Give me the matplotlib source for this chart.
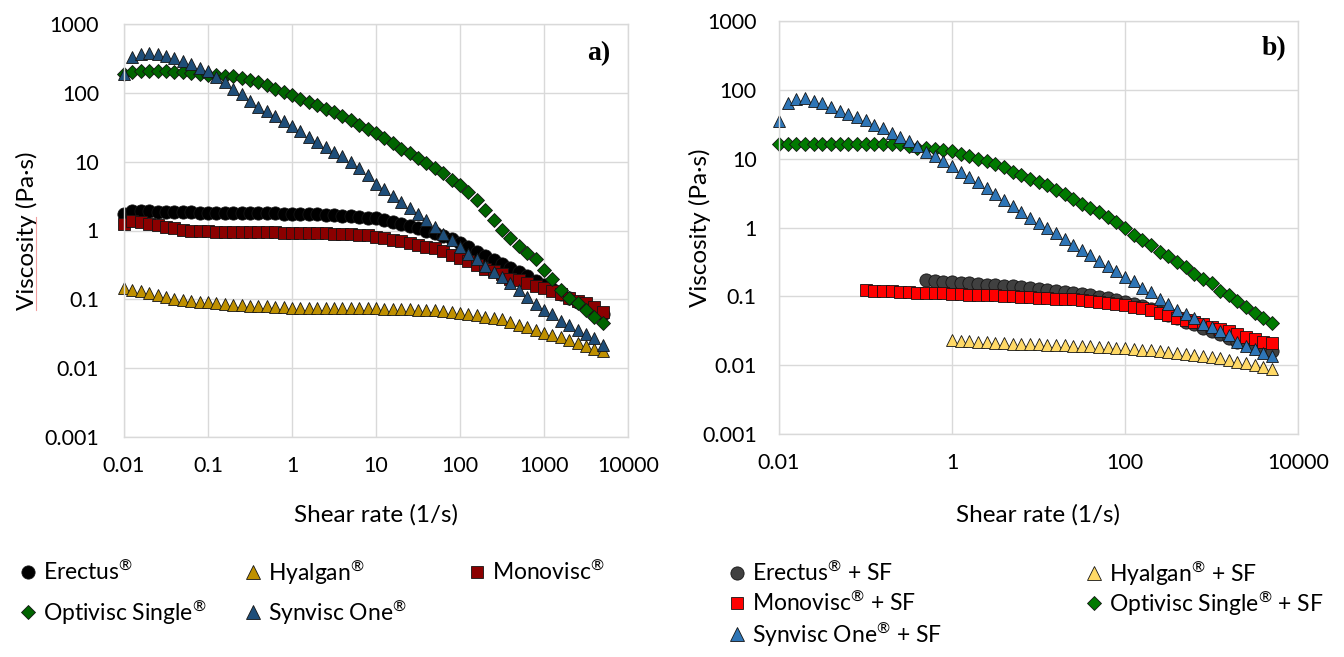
import matplotlib
matplotlib.use("Agg")
import matplotlib.pyplot as plt
from matplotlib.lines import Line2D
from matplotlib.ticker import FixedLocator, FixedFormatter, NullLocator

plt.rcParams['font.family'] = ['Lato', 'DejaVu Sans']
plt.rcParams['mathtext.fontset'] = 'custom'
plt.rcParams['mathtext.rm'] = 'Lato'
plt.rcParams['mathtext.it'] = 'Lato:italic'
plt.rcParams['mathtext.bf'] = 'Lato:bold'

# ---------------- data ----------------
SHEAR_RATE = [0.01, 0.0126, 0.0158, 0.02, 0.0251, 0.0316, 0.0398, 0.0501, 0.0631, 0.0794,
              0.1, 0.126, 0.158, 0.2, 0.251, 0.316, 0.398, 0.501, 0.631, 0.794,
              1, 1.26, 1.58, 2, 2.51, 3.16, 3.98, 5.01, 6.31, 7.94,
              10, 12.6, 15.8, 20, 25.1, 31.6, 39.8, 50.1, 63.1, 79.4,
              100, 126, 158, 200, 251, 316, 398, 501, 631, 794,
              1000, 1259, 1585, 1995, 2512, 3162, 3981, 5012]

# panel a
ERECTUS_A = [1.75, 1.9, 1.92, 1.9, 1.88, 1.86, 1.85, 1.84, 1.83, 1.82,
             1.81, 1.80, 1.80, 1.79, 1.79, 1.78, 1.78, 1.77, 1.77, 1.76,
             1.75, 1.74, 1.73, 1.72, 1.70, 1.68, 1.65, 1.62, 1.58, 1.54,
             1.50, 1.42, 1.34, 1.26, 1.18, 1.10, 1.00, 0.92, 0.84, 0.76,
             0.66, 0.57, 0.49, 0.42, 0.37, 0.33, 0.29, 0.25, 0.215, 0.185,
             0.16, 0.14, 0.12, 0.105, 0.092, 0.08, 0.07, 0.062]
HYALGAN_A = [0.146, 0.138, 0.13, 0.122, 0.115, 0.108, 0.102, 0.097, 0.094, 0.092,
             0.09, 0.088, 0.086, 0.084, 0.082, 0.081, 0.080, 0.079, 0.078, 0.077,
             0.076, 0.076, 0.075, 0.075, 0.075, 0.075, 0.074, 0.074, 0.074, 0.074,
             0.074, 0.073, 0.073, 0.072, 0.072, 0.071, 0.070, 0.069, 0.067, 0.065,
             0.063, 0.061, 0.059, 0.056, 0.054, 0.051, 0.047, 0.043, 0.040, 0.036,
             0.032, 0.030, 0.028, 0.026, 0.023, 0.021, 0.019, 0.018]
MONOVISC_A = [1.25, 1.38, 1.33, 1.26, 1.19, 1.13, 1.07, 1.03, 1.0, 0.98,
              0.97, 0.96, 0.96, 0.95, 0.95, 0.95, 0.94, 0.94, 0.94, 0.93,
              0.93, 0.92, 0.92, 0.91, 0.91, 0.90, 0.90, 0.89, 0.87, 0.85,
              0.80, 0.77, 0.74, 0.70, 0.66, 0.62, 0.58, 0.55, 0.50, 0.44,
              0.40, 0.36, 0.32, 0.28, 0.26, 0.23, 0.20, 0.19, 0.17, 0.155,
              0.145, 0.13, 0.118, 0.106, 0.096, 0.087, 0.077, 0.066]
OPTIVISC_A = [190, 200, 205, 205, 205, 205, 203, 200, 195, 188,
              182, 180, 178, 174, 166, 153, 142, 128, 115, 103,
              92, 82, 73, 66, 59, 52, 46, 40, 34, 30,
              26, 22, 18.6, 15.5, 13.2, 11.2, 9.5, 8.0, 6.8, 5.5,
              4.6, 3.6, 2.8, 2.0, 1.43, 1.02, 0.78, 0.59, 0.47, 0.39,
              0.27, 0.20, 0.135, 0.105, 0.089, 0.071, 0.055, 0.046]
SYNVISC_A = [190, 330, 370, 380, 370, 345, 318, 290, 260, 232,
             210, 168, 142, 114, 95, 76, 63, 55, 46, 39,
             33, 28, 23, 19.5, 16.5, 14, 12, 10, 8, 6.3,
             4.8, 4.0, 3.2, 2.6, 2.1, 1.75, 1.4, 1.12, 0.9, 0.73,
             0.58, 0.46, 0.39, 0.31, 0.25, 0.21, 0.17, 0.135, 0.108, 0.086,
             0.07, 0.061, 0.049, 0.042, 0.036, 0.031, 0.027, 0.022]

# panel b (+ synovial fluid); shorter series start later and end at the last shear rate
ERECTUS_B = [0.17, 0.165, 0.162, 0.16, 0.157, 0.154, 0.151, 0.148, 0.145, 0.142,
             0.139, 0.136, 0.132, 0.129, 0.125, 0.121, 0.117, 0.113, 0.109, 0.104,
             0.099, 0.094, 0.089, 0.084, 0.078, 0.072, 0.066, 0.060, 0.054, 0.048,
             0.043, 0.039, 0.035, 0.031, 0.028, 0.025, 0.022, 0.020, 0.018, 0.017,
             0.016]
HYALGAN_B = [0.0235, 0.0228, 0.0222, 0.0218, 0.0214, 0.0211, 0.0208, 0.0206, 0.0204, 0.0202,
             0.02, 0.0198, 0.0196, 0.0194, 0.0192, 0.0190, 0.0188, 0.0185, 0.0182, 0.0179,
             0.0176, 0.0172, 0.0168, 0.0164, 0.016, 0.0155, 0.015, 0.0145, 0.014, 0.0135,
             0.013, 0.0125, 0.012, 0.0113, 0.0106, 0.0099, 0.0093, 0.0088]
MONOVISC_B = [0.122, 0.121, 0.12, 0.118, 0.116, 0.115, 0.113, 0.112, 0.111, 0.110,
              0.109, 0.108, 0.106, 0.105, 0.104, 0.103, 0.102, 0.100, 0.099, 0.098,
              0.096, 0.095, 0.093, 0.092, 0.090, 0.088, 0.086, 0.084, 0.081, 0.078,
              0.074, 0.071, 0.067, 0.063, 0.058, 0.053, 0.049, 0.045, 0.042, 0.039,
              0.036, 0.034, 0.031, 0.028, 0.026, 0.024, 0.022, 0.021]
OPTIVISC_B = [16.5, 16.5, 16.5, 16.5, 16.5, 16.5, 16.5, 16.5, 16.5, 16.5,
              16.5, 16.5, 16.5, 16.5, 16.3, 15.5, 14.5, 14.2, 14.0, 13.4,
              12.8, 11.8, 10.8, 9.9, 9.1, 8.3, 7.5, 6.4, 5.7, 5.1,
              4.6, 4.1, 3.5, 3.1, 2.6, 2.2, 1.95, 1.7, 1.43, 1.2,
              0.97, 0.77, 0.66, 0.55, 0.44, 0.38, 0.32, 0.27, 0.21, 0.18,
              0.155, 0.12, 0.105, 0.085, 0.07, 0.058, 0.048, 0.041]
SYNVISC_B = [35, 64, 73, 76, 69, 64, 56, 50, 45, 40,
             36, 31, 28, 23.5, 20.5, 17.8, 15.4, 12.7, 11, 9.1,
             7.7, 6.3, 5.5, 4.6, 3.8, 3.1, 2.5, 2.05, 1.7, 1.38,
             1.18, 0.97, 0.82, 0.67, 0.55, 0.47, 0.40, 0.33, 0.28, 0.235,
             0.19, 0.165, 0.13, 0.115, 0.09, 0.078, 0.064, 0.056, 0.048, 0.040,
             0.036, 0.031, 0.027, 0.022, 0.019, 0.017, 0.015, 0.0135]

# legend labels; the registered sign is set as a small superscript like in the source
LABELS_A = ["Erectus$^{\\mathrm{®}}$", "Hyalgan$^{\\mathrm{®}}$", "Monovisc$^{\\mathrm{®}}$",
            "Optivisc Single$^{\\mathrm{®}}$", "Synvisc One$^{\\mathrm{®}}$"]
LABELS_B = ["Erectus$^{\\mathrm{®}}$ + SF", "Hyalgan$^{\\mathrm{®}}$ + SF",
            "Monovisc$^{\\mathrm{®}}$ + SF", "Optivisc Single$^{\\mathrm{®}}$ + SF",
            "Synvisc One$^{\\mathrm{®}}$ + SF"]

X_TICKS_A = [0.01, 0.1, 1, 10, 100, 1000, 10000]
X_TICKLABELS_A = ["0.01", "0.1", "1", "10", "100", "1000", "10000"]
X_TICKS_B = [0.01, 1, 100, 10000]
X_TICKLABELS_B = ["0.01", "1", "100", "10000"]
Y_TICKS = [0.001, 0.01, 0.1, 1, 10, 100, 1000]
Y_TICKLABELS = ["0.001", "0.01", "0.1", "1", "10", "100", "1000"]

# ---------------- styles ----------------
MARKERS = ['o', '^', 's', 'D', '^']
SIZES = [9.5, 9.0, 8.2, 6.8, 9.0]
COLORS_A = ['#000000', '#BF9000', '#8B0000', '#006400', '#1F4E79']
COLORS_B = ['#404040', '#FFD966', '#FF0000', '#007A00', '#2E75B6']
EDGE = '#141414'

W, H = 1344, 657
fig = plt.figure(figsize=(W / 100, H / 100), dpi=100)


def rect(l, t, r, b):
    return [l / W, 1 - b / H, (r - l) / W, (b - t) / H]


axA = fig.add_axes(rect(124, 24, 628, 437))
axB = fig.add_axes(rect(779, 21, 1298, 434))

series_a = [ERECTUS_A, HYALGAN_A, MONOVISC_A, OPTIVISC_A, SYNVISC_A]
series_b = [ERECTUS_B, HYALGAN_B, MONOVISC_B, OPTIVISC_B, SYNVISC_B]

for ax, series, colors, labels in ((axA, series_a, COLORS_A, LABELS_A),
                                   (axB, series_b, COLORS_B, LABELS_B)):
    for y, m, s, c, lab in zip(series, MARKERS, SIZES, colors, labels):
        x = SHEAR_RATE[len(SHEAR_RATE) - len(y):]
        ax.plot(x, y, linestyle='none', marker=m, markersize=s,
                markerfacecolor=c, markeredgecolor=EDGE, markeredgewidth=0.6,
                clip_on=False, label=lab)

for ax, xt, xtl in ((axA, X_TICKS_A, X_TICKLABELS_A), (axB, X_TICKS_B, X_TICKLABELS_B)):
    ax.set_xscale('log')
    ax.set_yscale('log')
    ax.set_xlim(0.01, 10000)
    ax.set_ylim(0.001, 1000)
    ax.xaxis.set_major_locator(FixedLocator(xt))
    ax.xaxis.set_major_formatter(FixedFormatter(xtl))
    ax.yaxis.set_major_locator(FixedLocator(Y_TICKS))
    ax.yaxis.set_major_formatter(FixedFormatter(Y_TICKLABELS))
    ax.xaxis.set_minor_locator(NullLocator())
    ax.yaxis.set_minor_locator(NullLocator())
    ax.grid(True, color='#D9D9D9', linewidth=1.0)
    ax.set_axisbelow(True)
    for sp in ax.spines.values():
        sp.set_color('#D9D9D9')
        sp.set_linewidth(1.0)
    ax.tick_params(length=0, labelsize=15.5, labelcolor='#000000')
    ax.tick_params(axis='x', pad=14)
    ax.set_xlabel('Shear rate (1/s)', fontsize=17.5, va='center')
    ax.set_ylabel('Viscosity (Pa·s)', fontsize=17.5, va='center')

axA.tick_params(axis='y', pad=18)
axB.tick_params(axis='y', pad=16)
axA.xaxis.set_label_coords(0.5, (437 - 515) / 413)
axB.xaxis.set_label_coords(0.5, (434 - 515) / 413)
axA.yaxis.set_label_coords((27 - 124) / 504, 0.5)
axB.yaxis.set_label_coords((700 - 779) / 519, 0.5)

# spell-check underline seen under "Viscosity" in panel a
fig.add_artist(Line2D([36 / W, 36 / W], [1 - 217 / H, 1 - 310 / H],
                      color='#F2A0A0', linewidth=0.8))

fig.text(599 / W, 1 - 54 / H, 'a)', fontfamily=['Liberation Serif'], fontweight='bold',
         fontsize=20, ha='center', va='center')
fig.text(1274 / W, 1 - 49 / H, 'b)', fontfamily=['Liberation Serif'], fontweight='bold',
         fontsize=20, ha='center', va='center')

# ---------------- legends ----------------
LEG_SIZES = [9.5, 9.5, 9.0, 7.0, 9.5]


def leg_item(xm, yc, idx, color, text):
    fig.add_artist(Line2D([xm / W], [1 - yc / H], marker=MARKERS[idx], markersize=LEG_SIZES[idx],
                          markerfacecolor=color, markeredgecolor=EDGE, markeredgewidth=0.6,
                          linestyle='none'))
    fig.text((xm + 15) / W, 1 - (yc - 2) / H, text, fontsize=16.5, ha='left',
             va='center_baseline')


pos_a = [(28, 572), (253, 572), (477, 572), (28, 612), (253, 612)]
for i, (xm, yc) in enumerate(pos_a):
    leg_item(xm, yc, i, COLORS_A[i], LABELS_A[i])

pos_b = [(737, 573), (1094, 573), (737, 603), (1094, 603), (737, 634)]
for i, (xm, yc) in enumerate(pos_b):
    leg_item(xm, yc, i, COLORS_B[i], LABELS_B[i])

fig.savefig('out.png', dpi=100)
